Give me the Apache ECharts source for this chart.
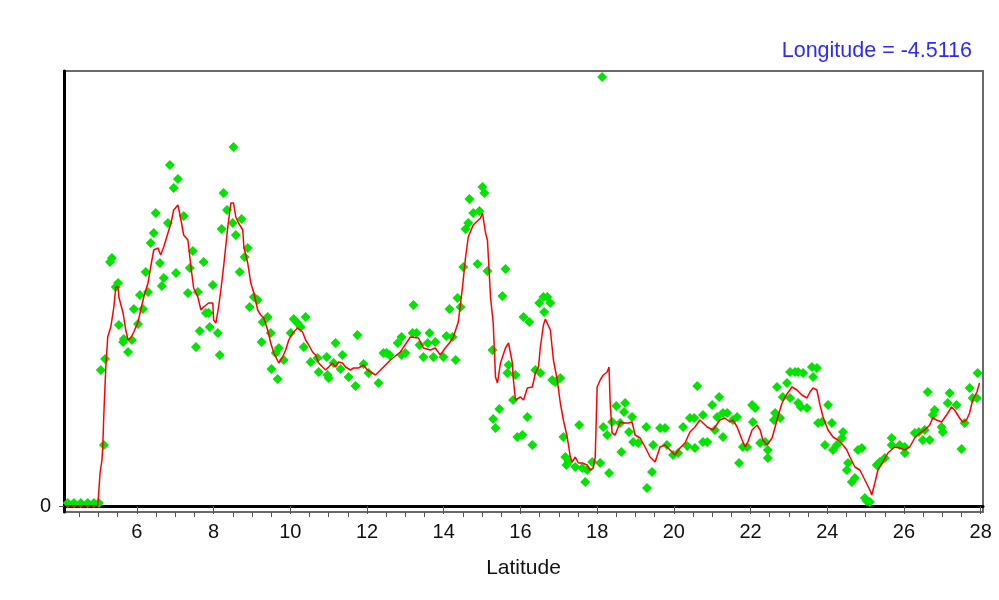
<!DOCTYPE html>
<html>
<head>
<meta charset="utf-8">
<title>Longitude = -4.5116</title>
<script src="https://cdn.jsdelivr.net/npm/echarts@6/dist/echarts.min.js"></script>
<style>
html, body { margin: 0; padding: 0; background: #fff; }
#main { width: 999px; height: 600px; }
</style>
</head>
<body>
<div id="main"></div>
<script>
// data: [latitude, value]
var samples = [
	[4.20,0.3],[4.36,0.3],[4.54,0.3],[4.72,0.3],[4.88,0.3],[5.01,0.3],[5.14,6.1],[5.06,13.6],[5.17,14.7],[5.30,24.4],
	[5.35,24.8],[5.51,22.3],[5.45,21.9],[5.53,18.1],[5.66,16.7],[5.64,16.4],[5.77,15.4],[5.87,16.6],[5.92,19.7],[6.03,18.2],
	[6.08,21.1],[6.16,19.7],[6.23,23.4],[6.29,21.4],[6.36,26.3],[6.44,27.3],[6.49,29.3],[6.60,24.3],[6.70,22.8],[6.65,22.0],
	[6.81,28.3],[6.86,34.1],[6.96,31.8],[7.07,32.7],[7.02,23.3],[7.22,29.0],[7.33,21.3],[7.38,23.8],[7.46,25.5],[7.59,21.4],
	[7.64,17.5],[7.54,15.9],[7.74,24.4],[7.80,19.3],[7.87,19.3],[7.98,22.1],[7.90,17.9],[8.11,17.3],[8.16,15.1],[8.26,31.3],
	[8.21,27.7],[8.52,35.9],[8.35,29.6],[8.50,28.3],[8.58,27.1],[8.73,28.7],[8.89,25.8],[8.81,24.9],[8.68,23.4],[9.05,20.9],
	[9.15,20.6],[8.94,19.9],[9.41,18.9],[9.28,18.4],[9.49,17.3],[9.25,16.4],[9.70,15.8],[9.62,15.3],[9.83,14.6],[9.51,13.7],
	[9.67,12.7],[10.09,18.7],[10.19,18.3],[10.27,17.9],[10.40,18.9],[10.01,17.3],[10.35,15.9],[10.53,14.4],[10.74,13.4],[10.71,14.8],
	[10.95,14.9],[11.00,12.8],[10.97,13.1],[11.18,16.3],[11.13,14.3],[11.31,13.7],[11.36,15.1],[11.52,12.9],[11.70,12.0],[11.75,17.1],
	[11.91,14.2],[12.04,13.3],[12.30,12.3],[12.43,15.3],[12.51,15.3],[12.59,15.1],[12.80,16.3],[12.90,16.9],[13.00,15.3],[12.90,15.1],
	[13.21,20.1],[13.19,17.3],[13.29,17.3],[13.37,16.1],[13.47,14.9],[13.63,17.3],[13.58,16.3],[13.78,16.4],[13.73,14.9],[13.99,14.9],
	[14.07,17.0],[14.23,16.9],[14.31,14.6],[14.15,19.7],[14.36,20.8],[14.44,19.9],[14.51,23.9],[14.57,27.7],[14.64,28.3],[14.67,30.7],
	[14.77,29.3],[14.93,29.5],[14.88,24.2],[15.01,31.9],[15.06,31.3],[15.14,23.5],[15.61,23.7],[15.53,21.0],[15.27,15.6],[15.45,9.7],
	[15.29,8.7],[15.35,7.8],[15.69,14.1],[15.66,13.3],[15.87,13.1],[15.81,10.6],[16.08,18.9],[16.23,18.4],[16.18,8.9],[15.92,6.9],
	[16.05,7.1],[16.31,6.1],[16.39,13.6],[16.49,20.3],[16.60,20.9],[16.70,20.9],[16.78,20.3],[16.62,19.4],[16.52,13.3],[16.83,12.6],
	[16.91,12.4],[17.04,12.8],[17.12,6.9],[17.17,4.9],[17.25,4.4],[17.20,4.1],[17.53,8.1],[17.43,3.9],[17.61,3.8],[17.74,3.6],
	[17.69,2.4],[17.87,4.4],[18.08,4.3],[18.13,42.9],[18.16,7.9],[18.26,7.1],[18.31,3.3],[18.50,10.0],[18.73,10.3],[18.70,9.4],
	[18.91,8.9],[18.39,8.4],[18.60,8.3],[18.63,5.4],[18.83,7.4],[18.94,6.4],[19.07,6.3],[19.28,7.9],[19.46,6.1],[19.43,3.4],
	[19.30,1.8],[19.64,7.8],[19.77,7.8],[19.82,6.1],[19.98,5.1],[20.11,5.3],[20.24,7.9],[20.35,6.0],[20.42,8.8],[20.53,8.8],
	[20.55,5.8],[20.61,12.0],[20.76,9.1],[20.76,6.4],[20.87,6.4],[21.00,10.1],[21.18,10.9],[21.07,7.6],[21.13,8.9],[21.28,9.3],
	[21.39,9.3],[21.28,6.9],[21.65,8.9],[21.54,8.6],[21.70,4.3],[22.04,10.1],[22.12,9.8],[22.06,8.4],[21.80,5.9],[21.91,5.9],
	[22.25,6.3],[22.38,6.4],[22.45,5.6],[22.45,4.8],[22.64,9.3],[22.77,8.8],[22.61,8.6],[22.69,11.9],[22.95,12.3],[22.84,10.9],
	[23.03,13.4],[23.16,13.4],[23.24,13.4],[23.37,13.3],[23.03,10.8],[23.24,10.3],[23.47,9.8],[23.31,9.9],[23.60,13.9],[23.73,13.8],
	[23.63,12.9],[24.02,10.1],[23.76,8.3],[23.86,8.4],[24.12,8.3],[23.94,6.1],[24.15,5.6],[24.25,6.1],[24.41,7.4],[24.38,6.8],
	[24.54,4.3],[24.51,3.6],[24.80,5.6],[24.90,5.8],[24.72,2.8],[24.64,2.4],[24.98,0.8],[25.03,0.5],[25.11,0.4],[25.29,4.1],
	[25.37,4.4],[25.50,4.8],[25.68,6.8],[25.68,6.1],[25.89,6.1],[26.02,5.9],[26.02,5.3],[26.28,7.3],[26.39,7.4],[26.54,7.6],
	[26.49,6.6],[26.67,6.6],[26.62,11.4],[26.80,9.6],[26.75,9.1],[26.98,7.9],[27.01,7.4],[27.19,11.3],[27.14,10.3],[27.37,10.1],
	[27.50,5.7],[27.58,8.3],[27.71,11.8],[27.79,10.8],[27.90,10.8],[27.92,13.3]
];

// smoothed curve: [latitude, value]
var smooth = [
	[4.15,0],[4.98,0],[5.04,3.3],[5.09,4.6],[5.11,5.9],[5.14,9.3],[5.19,13.9],[5.24,16.9],[5.32,17.9],[5.40,19.9],
	[5.45,21.9],[5.51,21.9],[5.53,20.9],[5.64,19.3],[5.71,17.6],[5.77,16.6],[5.84,16.8],[5.92,17.4],[6.03,18.4],[6.10,19.6],
	[6.18,20.9],[6.29,22.3],[6.36,23.9],[6.44,25.6],[6.55,25.8],[6.62,25.1],[6.70,25.9],[6.81,27.3],[6.89,28.3],[6.96,29.6],
	[7.07,30.1],[7.15,28.6],[7.22,27.1],[7.33,26.6],[7.41,23.9],[7.48,21.8],[7.59,20.9],[7.67,19.6],[7.74,19.9],[7.87,20.3],
	[7.98,20.3],[8.00,18.6],[8.06,18.3],[8.13,19.9],[8.19,21.6],[8.26,23.9],[8.37,27.9],[8.45,30.3],[8.52,30.3],[8.58,28.9],
	[8.65,28.3],[8.76,27.6],[8.79,25.9],[8.89,24.3],[8.97,22.3],[9.05,21.3],[9.15,19.6],[9.23,19.1],[9.31,18.8],[9.41,17.6],
	[9.49,16.3],[9.57,15.3],[9.70,14.3],[9.80,14.9],[9.88,15.6],[9.96,16.6],[10.06,17.3],[10.19,17.8],[10.32,17.4],[10.40,16.6],
	[10.48,16.1],[10.58,15.4],[10.66,15.1],[10.74,14.3],[10.84,13.9],[10.92,13.6],[11.00,13.9],[11.10,14.3],[11.18,13.9],[11.26,14.4],
	[11.36,14.3],[11.44,13.9],[11.57,13.6],[11.65,13.8],[11.78,13.8],[11.91,14.1],[12.01,13.6],[12.14,13.3],[12.22,13.1],[12.30,13.4],
	[12.43,13.9],[12.61,14.6],[12.87,15.4],[13.13,16.9],[13.34,16.8],[13.47,15.8],[13.65,15.6],[13.78,15.8],[13.91,15.1],[14.04,15.8],
	[14.17,16.4],[14.25,16.9],[14.38,18.4],[14.49,21.9],[14.57,24.9],[14.64,26.9],[14.77,28.1],[14.96,28.8],[15.01,29.3],[15.09,27.3],
	[15.14,26.6],[15.22,20.9],[15.29,18.3],[15.35,12.9],[15.40,12.3],[15.48,14.3],[15.61,15.8],[15.69,16.3],[15.79,14.3],[15.81,12.9],
	[15.87,10.6],[16.00,10.9],[16.08,10.6],[16.18,11.8],[16.31,11.9],[16.39,13.3],[16.47,13.9],[16.52,15.9],[16.60,18.1],[16.65,18.7],
	[16.78,17.6],[16.86,14.6],[16.96,12.6],[17.04,10.3],[17.12,8.6],[17.22,6.9],[17.30,4.9],[17.35,4.4],[17.43,4.9],[17.51,4.3],
	[17.61,4.3],[17.74,4.1],[17.82,3.6],[17.90,3.8],[17.95,4.9],[18.00,11.9],[18.08,12.6],[18.16,13.1],[18.26,13.4],[18.31,13.9],
	[18.34,10.3],[18.39,7.3],[18.47,7.1],[18.52,6.9],[18.60,8.4],[18.68,8.3],[18.81,8.3],[18.91,8.4],[18.99,7.1],[19.12,6.8],
	[19.25,5.9],[19.38,4.9],[19.51,4.4],[19.64,5.9],[19.77,6.1],[19.90,5.6],[20.03,5.1],[20.16,5.8],[20.29,6.3],[20.42,7.4],
	[20.55,7.9],[20.68,8.6],[20.87,7.9],[21.02,7.6],[21.20,8.6],[21.33,8.8],[21.46,8.4],[21.54,8.6],[21.65,7.9],[21.78,6.6],
	[21.86,5.9],[21.93,6.4],[22.04,7.6],[22.17,8.1],[22.25,7.6],[22.32,6.6],[22.43,6.1],[22.56,6.8],[22.64,7.9],[22.71,8.9],
	[22.82,10.3],[22.90,10.9],[22.97,11.3],[23.08,11.9],[23.21,11.6],[23.34,11.1],[23.47,10.8],[23.55,11.4],[23.63,11.8],[23.73,11.6],
	[23.81,10.1],[23.89,8.9],[24.02,7.6],[24.15,6.9],[24.28,6.6],[24.41,6.1],[24.51,5.6],[24.59,4.9],[24.72,3.9],[24.85,3.6],
	[24.98,2.6],[25.11,1.6],[25.16,1.1],[25.24,2.3],[25.32,3.6],[25.45,4.4],[25.58,5.3],[25.76,5.9],[25.89,5.8],[26.02,5.6],
	[26.15,5.9],[26.28,6.8],[26.41,7.3],[26.54,7.6],[26.67,8.1],[26.75,8.8],[26.85,8.6],[26.98,8.4],[27.11,9.1],[27.24,9.9],
	[27.32,9.6],[27.45,8.8],[27.53,8.4],[27.63,8.6],[27.71,9.3],[27.79,10.6],[27.90,11.4],[27.97,12.3]
];

var latTicks = [6, 8, 10, 12, 14, 16, 18, 20, 22, 24, 26, 28];
var latMinorTicks = [4.5, 5, 5.5, 6.5, 7, 7.5, 8.5, 9, 9.5, 10.5, 11, 11.5, 12.5, 13, 13.5, 14.5, 15, 15.5,
	16.5, 17, 17.5, 18.5, 19, 19.5, 20.5, 21, 21.5, 22.5, 23, 23.5, 24.5, 25, 25.5, 26.5, 27, 27.5];
var valueTicks = [0];

var font = 'Liberation Sans, Arial, sans-serif';

var myChart = echarts.init(document.getElementById('main'));
var option = {
	animation: false,
	backgroundColor: '#fff',
	title: {
		text: 'Longitude = -4.5116',
		right: 22,
		top: 35,
		textStyle: { color: '#2b2bff', fontSize: 21.5, fontWeight: 'normal', fontFamily: font }
	},
	grid: {
		left: 64, right: 16, top: 71, bottom: 88,
		show: true,
		borderColor: '#6a6a6a',
		borderWidth: 2
	},
	xAxis: [
		{
			type: 'value',
			min: 4.1, max: 28.06,
			name: 'Latitude',
			nameLocation: 'middle',
			nameGap: 46,
			nameTextStyle: { color: '#111', fontSize: 21, fontFamily: font },
			splitLine: { show: false },
			axisLine: { show: true, lineStyle: { color: '#000', width: 3 } },
			axisTick: { show: true, customValues: latTicks, length: 8, lineStyle: { color: '#555' } },
			axisLabel: { customValues: latTicks, margin: 10, color: '#111', fontSize: 20, fontFamily: font }
		},
		{
			type: 'value',
			min: 4.1, max: 28.06,
			position: 'bottom',
			splitLine: { show: false },
			axisLine: { show: false },
			axisTick: { show: true, customValues: latMinorTicks, length: 5, lineStyle: { color: '#555' } },
			axisLabel: { show: false }
		}
	],
	yAxis: {
		type: 'value',
		min: -0.6, max: 43.5,
		splitLine: { show: false },
		axisLine: { show: true, lineStyle: { color: '#000', width: 3 } },
		axisTick: { show: true, customValues: valueTicks, length: 5, lineStyle: { color: '#555' } },
		axisLabel: { customValues: valueTicks, margin: 13, color: '#111', fontSize: 20, fontFamily: font }
	},
	series: [
		{
			name: 'samples',
			type: 'scatter',
			symbol: 'diamond',
			symbolSize: 10,
			itemStyle: { color: '#00e400', opacity: 1 },
			data: samples,
			z: 2
		},
		{
			name: 'smooth',
			type: 'line',
			showSymbol: false,
			lineStyle: { color: '#ff0000', width: 1.5 },
			data: smooth,
			z: 3
		}
	]
};
myChart.setOption(option);
</script>
</body>
</html>
